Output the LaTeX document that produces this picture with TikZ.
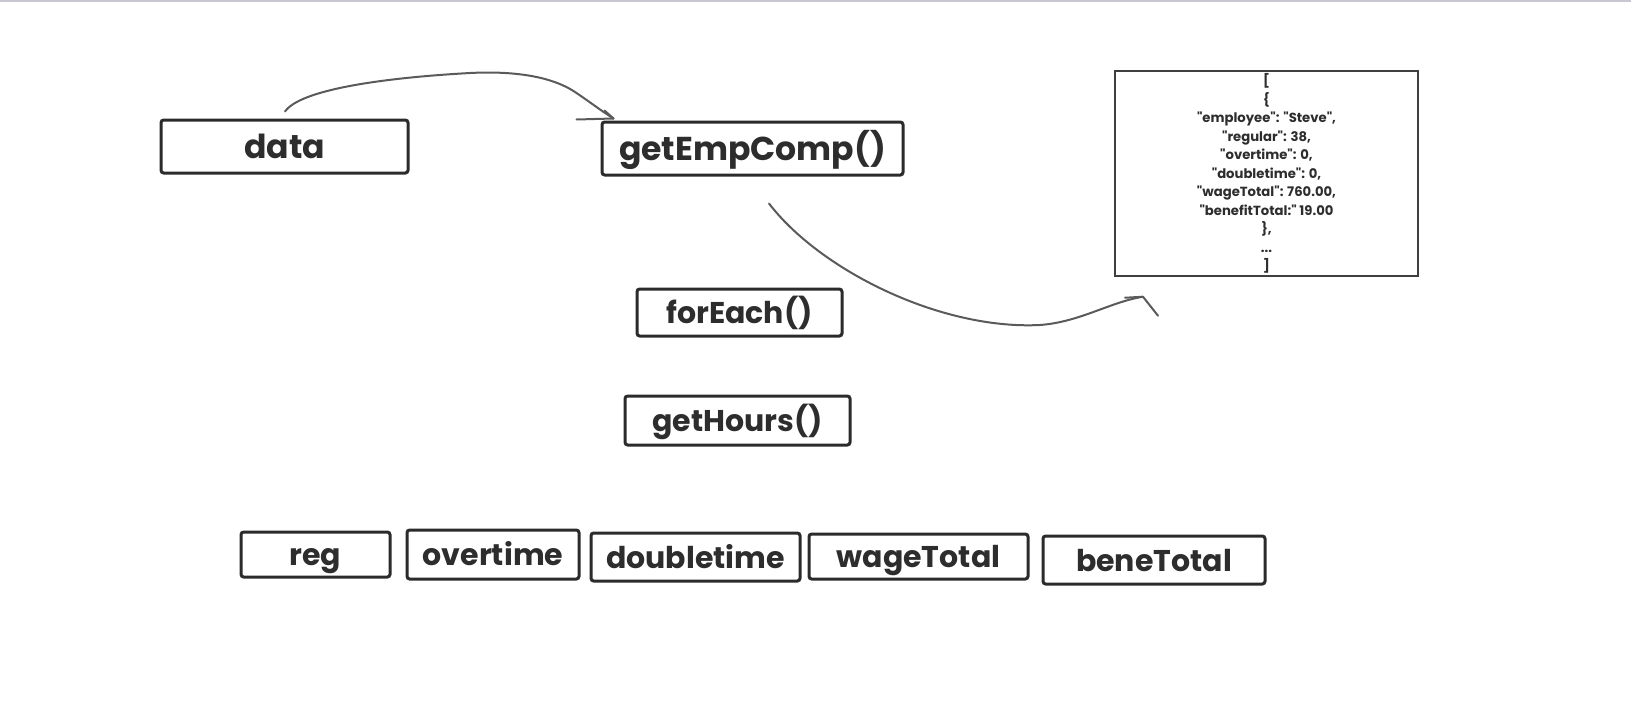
\documentclass[tikz,border=0pt]{standalone}
\usepackage{fontspec}
\setmainfont{Poppins}[Ligatures=TeXOff]
\begin{document}
\begin{tikzpicture}[x=0.75pt,y=-0.75pt,
  box/.style 2 args={draw=boxc,line width=2.25pt,rounded corners=2pt,
    minimum width=#1*0.75pt,minimum height=#2*0.75pt,inner sep=0pt,
    text=txt,font=\bfseries\fontsize{22.5}{27}\selectfont,
    text height=16.5pt,text depth=0pt},
  bigbox/.style={font=\bfseries\fontsize{24.8}{30}\selectfont,text height=18.5pt},
  conn/.style={draw=connc,line width=1.5pt,line cap=round,line join=round},
  jsonbox/.style={draw=jsonc,line width=1.1pt,minimum width=303*0.75pt,
    minimum height=205*0.75pt,inner sep=0pt,align=center,text=txt,
    font=\bfseries\fontsize{9.9}{13.9}\selectfont}]
\definecolor{boxc}{HTML}{2B2B2B}
\definecolor{txt}{HTML}{2D2D2D}
\definecolor{connc}{HTML}{5A5A5A}
\definecolor{jsonc}{HTML}{3F3F3F}
\definecolor{topc}{HTML}{C8C8D2}
\useasboundingbox (0,0) rectangle (1631,718);
\draw[topc,line width=1.5pt] (0,0.8) -- (1631,0.8);

\node[box={247}{53},bigbox] (data) at (284.5,146.5) {data};
\node[box={301}{53},bigbox] (emp) at (752.5,148.5) {getEmpComp()};
\node[box={205}{47}] (each) at (739.5,312.5) {forEach()};
\node[box={225}{49}] (hours) at (737.5,420.5) {getHours()};
\node[box={149}{45}] (reg) at (315.5,554.5) {reg};
\node[box={172}{49}] (ot) at (493,554.5) {overtime};
\node[box={209}{48}] (dt) at (695.5,557) {doubletime};
\node[box={219}{45}] (wage) at (918.5,556.5) {wageTotal};
\node[box={222}{48}] (bene) at (1154,560) {beneTotal};
\node[jsonbox] (json) at (1266.5,173.5) {[\\ \{\\ "employee": "Steve",\\ "regular": 38,\\ "overtime": 0,\\ "doubletime": 0,\\ "wageTotal": 760.00,\\ "benefitTotal:" 19.00\\ \},\\ ...\\ ]};

\coordinate (t1) at ([shift={(13,-2)}]emp.north west);
\draw[conn] ([shift={(0.5,-7)}]data.north) .. controls (300,90) and (380,78) .. (470,73)
  .. controls (530,70) and (560,82) .. (575,92) .. controls (590,102) and (600,110) .. (t1);
\draw[conn] (t1) -- ++(-37,1);
\draw[conn] (t1) -- ++(-9,-8);

\coordinate (t2) at ([shift={(-123.5,20)}]json.south);
\draw[conn] ([shift={(16.5,27)}]emp.south) .. controls (820,270) and (940,330) .. (1040,325)
  .. controls (1080,322) and (1110,302) .. (t2);
\draw[conn] (t2) -- ++(-18,1);
\draw[conn] (t2) -- ++(15,19);
\end{tikzpicture}
\end{document}
